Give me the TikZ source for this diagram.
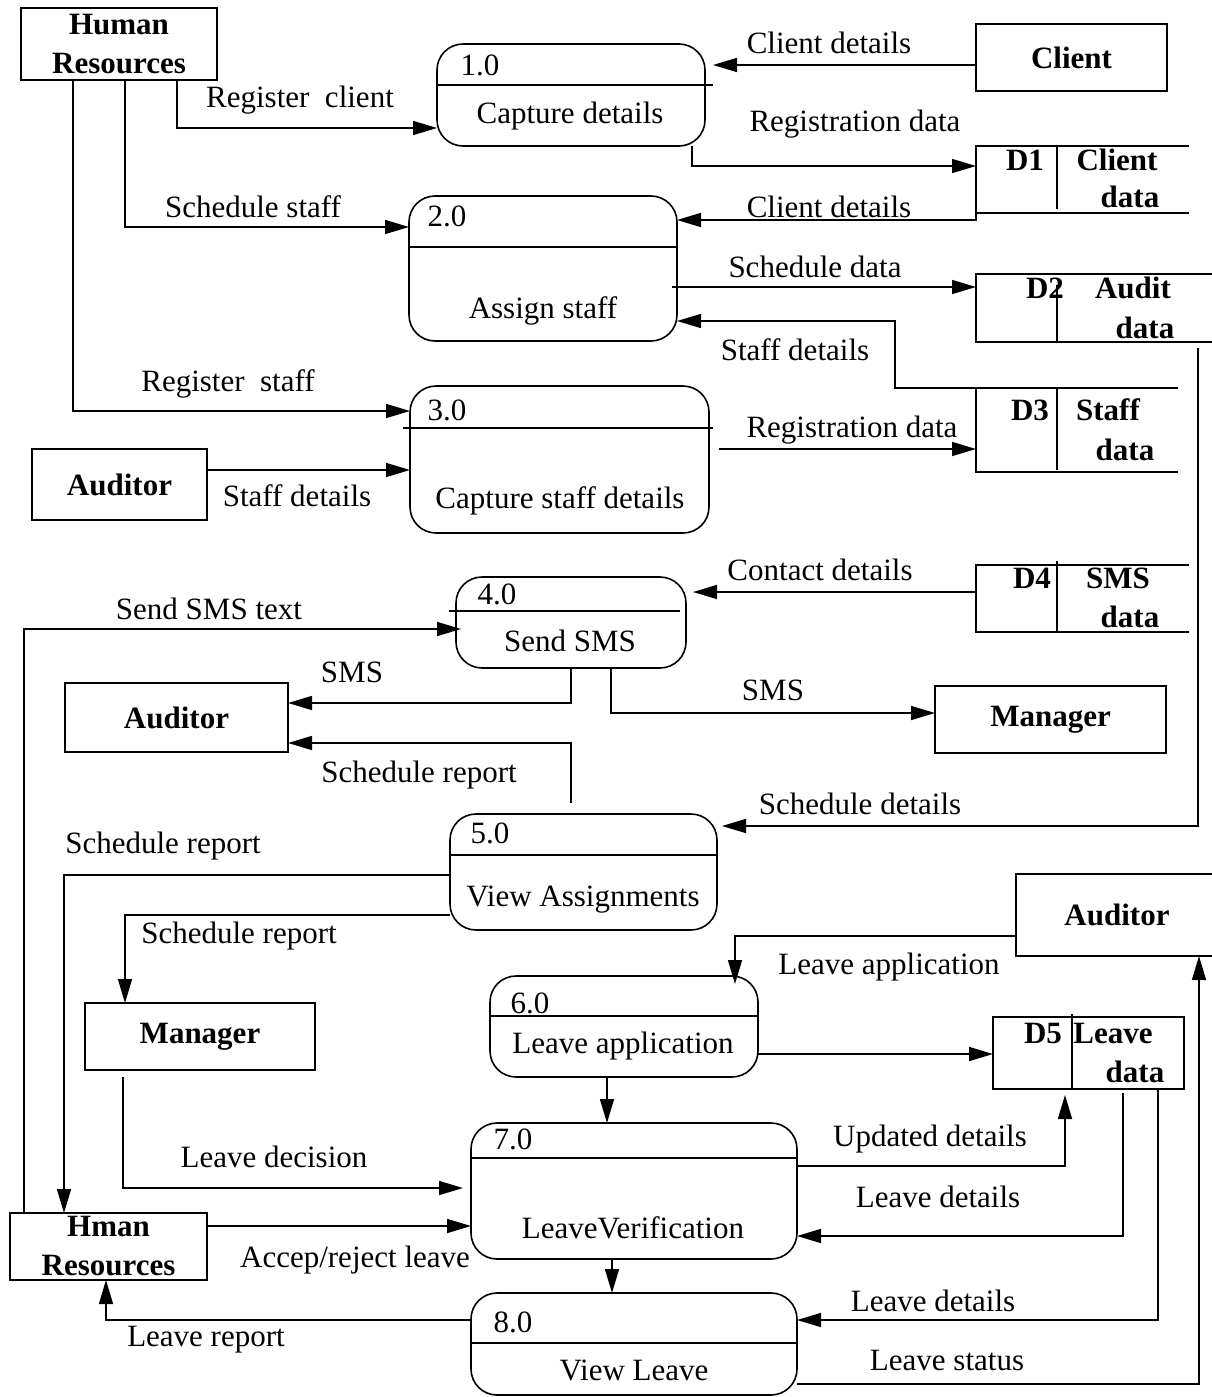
\documentclass[tikz,border=0pt]{standalone}
\usepackage{fontspec}
\setmainfont{Liberation Serif}
\usetikzlibrary{arrows.meta}
\begin{document}
\begin{tikzpicture}[x=1pt,y=-1pt,
  every node/.style={font=\fontsize{31}{39}\selectfont, inner sep=0pt, outer sep=0pt},
  ent/.style={draw, line width=2pt, font=\fontsize{31}{39}\selectfont\bfseries, align=center},
  proc/.style={draw, line width=1.6pt, rounded corners=26pt},
  sto/.style={},
  bt/.style={font=\fontsize{31}{39}\selectfont\bfseries},
  stoline/.style={line width=1.8pt},
  ln/.style={line width=1.6pt},
  flow/.style={line width=1.6pt, -{Triangle[length=24pt,width=14pt]}}]
\useasboundingbox (0,0) rectangle (1212,1397);
\fill[white] (0,0) rectangle (1212,1397);

% ---------- external entities ----------
\node[ent, minimum width=196pt, minimum height=72pt] (hrtop) at (119,44) {Human\\Resources};
\node[ent, minimum width=191pt, minimum height=67pt] (client) at (1071.5,57.5) {Client};
\node[ent, minimum width=175pt, minimum height=71pt] (aud1) at (119.5,484.5) {Auditor};
\node[ent, minimum width=223pt, minimum height=69pt] (aud2) at (176.5,717.5) {Auditor};
\node[ent, minimum width=231pt, minimum height=67pt] (mgr1) at (1050.5,719.5) {Manager};
\node[ent, minimum width=230pt, minimum height=67pt] (mgr2) at (200,1036.5) {Manager};
\node[ent, minimum width=202pt, minimum height=82pt] (aud3) at (1117,915) {Auditor};
\node[ent, minimum width=197pt, minimum height=67pt] (hrbot) at (108.5,1246.5) {Hman\\Resources};

% ---------- processes ----------
\node[proc, minimum width=268pt, minimum height=102pt] (p1) at (571,95) {};
\node[proc, minimum width=268pt, minimum height=145pt] (p2) at (543,268.5) {};
\node[proc, minimum width=299pt, minimum height=147pt] (p3) at (559.5,459.5) {};
\node[proc, minimum width=230pt, minimum height=91pt] (p4) at (571,622.5) {};
\node[proc, minimum width=267pt, minimum height=116pt] (p5) at (583.5,872) {};
\node[proc, minimum width=268pt, minimum height=101pt] (p6) at (624,1026.5) {};
\node[proc, minimum width=326pt, minimum height=136pt] (p7) at (634,1191) {};
\node[proc, minimum width=326pt, minimum height=102pt] (p8) at (634,1344) {};

\draw[ln] (p1.west |- 0,85) -- (713,85);
\draw[ln] (p2.west |- 0,247) -- (p2.east |- 0,247);
\draw[ln] (403,428) -- (713,428);
\draw[ln] (449,611) -- (680,611);
\draw[ln] (p5.west |- 0,855) -- (p5.east |- 0,855);
\draw[ln] (p6.west |- 0,1016) -- (p6.east |- 0,1016);
\draw[ln] (p7.west |- 0,1158) -- (p7.east |- 0,1158);
\draw[ln] (p8.west |- 0,1343) -- (p8.east |- 0,1343);

\node (p1n) at (480,65) {1.0};   \node (p1t) at (570,116) {Capture details};
\node (p2n) at (447,216) {2.0};  \node (p2t) at (543,311) {Assign staff};
\node (p3n) at (447,410) {3.0};  \node (p3t) at (560,501) {Capture staff details};
\node (p4n) at (497,594) {4.0};  \node (p4t) at (570,641) {Send SMS};
\node (p5n) at (490,833) {5.0};  \node (p5t) at (583,900) {View Assignments};
\node (p6n) at (530,1003) {6.0}; \node (p6t) at (623,1046) {Leave application};
\node (p7n) at (513,1139) {7.0}; \node (p7t) at (633,1228) {LeaveVerification};
\node (p8n) at (513,1322) {8.0}; \node (p8t) at (634,1370) {View Leave};

% ---------- data stores ----------
\node[sto, minimum width=213pt, minimum height=67pt] (d1) at (1082.5,179.5) {};
\node[sto, minimum width=240pt, minimum height=68pt] (d2) at (1096,308) {};
\node[sto, minimum width=202pt, minimum height=84pt] (d3) at (1077,430) {};
\node[sto, minimum width=213pt, minimum height=67pt] (d4) at (1082.5,598.5) {};
\node[sto, minimum width=191pt, minimum height=72pt] (d5) at (1088.5,1053) {};

\draw[stoline] (d1.north east) -- (d1.north west) -- (d1.south west) -- (d1.south east);
\draw[stoline] (1057,146) -- (1057,209);
\draw[stoline] (d2.north east) -- (d2.north west) -- (d2.south west) -- (d2.south east);
\draw[stoline] (1057,285) -- (1057,343);
\draw[stoline] (d3.north east) -- (d3.north west) -- (d3.south west) -- (d3.south east);
\draw[stoline] (1057,388) -- (1057,470);
\draw[stoline] (d4.north east) -- (d4.north west) -- (d4.south west) -- (d4.south east);
\draw[stoline] (1057,561) -- (1057,632);
\draw[stoline] (d5.north west) rectangle (d5.south east);
\draw[stoline] (1072,1014) -- (1072,1089);

\node[bt] (d1a) at (1025,160) {D1}; \node[bt] (d1b) at (1117,160) {Client}; \node[bt] (d1c) at (1130,197) {data};
\node[bt] (d2a) at (1045,288) {D2}; \node[bt] (d2b) at (1133,288) {Audit};  \node[bt] (d2c) at (1145,328) {data};
\node[bt] (d3a) at (1030,410) {D3}; \node[bt] (d3b) at (1108,410) {Staff};  \node[bt] (d3c) at (1125,450) {data};
\node[bt] (d4a) at (1032,578) {D4}; \node[bt] (d4b) at (1118,578) {SMS};    \node[bt] (d4c) at (1130,617) {data};
\node[bt] (d5a) at (1043,1033) {D5}; \node[bt] (d5b) at (1113,1033) {Leave}; \node[bt] (d5c) at (1135,1072) {data};

% ---------- free ends ----------
\coordinate (t1) at (713,65);
\coordinate (t2) at (735,984);
\coordinate (t3) at (1065,1095);
\coordinate (t4) at (463,1188);
\coordinate (t5) at (461,629);
\coordinate (t6) at (693,592);
\coordinate (t7) at (722,826);

% ---------- flows ----------
\draw[flow] (hrtop.south -| 177,0) |- (p1.west |- 0,128);
\draw[flow] (hrtop.south -| 125,0) |- (p2.west |- 0,227);
\draw[flow] (hrtop.south -| 73,0) |- (p3.west |- 0,411);
\draw[flow] (client.west |- 0,65) -- (t1);
\draw[flow] (p1.south -| 692,0) |- (d1.west |- 0,166);
\draw[flow] (d1.south west) -- ++(0,7) -- (p2.east |- 0,220);
\draw[flow] (672,287) -- (d2.west |- 0,287);
\draw[flow] (d3.north west) -- (895,388) |- (p2.east |- 0,321);
\draw[flow] (719,449) -- (d3.west |- 0,449);
\draw[flow] (aud1.east |- 0,470) -- (p3.west |- 0,470);
\draw[flow] (d4.west |- 0,592) -- (t6);
\draw[flow] (hrbot.north -| 24,0) |- (t5);
\draw[flow] (p4.south -| 571,0) |- (aud2.east |- 0,703);
\draw[flow] (p4.south -| 611,0) |- (mgr1.west |- 0,713);
\draw[flow] (d2.south -| 1198,0) ++(0,6) |- (t7);
\draw[flow] (p5.north -| 571,0) ++(0,-11) |- (aud2.east |- 0,743);
\draw[flow] (p5.west |- 0,875) -| (hrbot.north -| 64,0);
\draw[flow] (p5.west |- 0,915) -| (mgr2.north -| 125,0);
\draw[flow] (aud3.west |- 0,936) -| (t2);
\draw[flow] (p6.east |- 0,1054) -- (d5.west |- 0,1054);
\draw[flow] (p6.south -| 607,0) -- (p7.north -| 607,0);
\draw[flow] (p7.east |- 0,1166) -| (t3);
\draw[flow] (d5.south -| 1123,0) ++(0,4) |- (p7.east |- 0,1236);
\draw[flow] (d5.south -| 1158,0) |- (p8.east |- 0,1320);
\draw[flow] (p8.east |- 0,1384) -| (aud3.south -| 1199,0);
\draw[flow] (mgr2.south -| 123,0) ++(0,7) |- (t4);
\draw[flow] (hrbot.east |- 0,1226) -- (p7.west |- 0,1226);
\draw[flow] (p7.south -| 612,0) -- (p8.north -| 612,0);
\draw[flow] (p8.west |- 0,1320) -| (hrbot.south -| 106,0);

% ---------- flow labels ----------
\node (l1) at (300,100) {Register~~client};
\node (l2) at (829,43) {Client details};
\node (l3) at (855,124) {Registration data};
\node (l4) at (253,207) {Schedule staff};
\node (l5) at (829,207) {Client details};
\node (l6) at (815,267) {Schedule data};
\node (l7) at (795,350) {Staff details};
\node (l8) at (228,384) {Register~~staff};
\node (l9) at (852,430) {Registration data};
\node (l10) at (297,496) {Staff details};
\node (l11) at (820,570) {Contact details};
\node (l12) at (209,609) {Send SMS text};
\node (l13) at (352,672) {SMS};
\node (l14) at (773,690) {SMS};
\node (l15) at (419,775) {Schedule report};
\node (l16) at (860,804) {Schedule details};
\node (l17) at (163,846) {Schedule report};
\node (l18) at (239,936) {Schedule report};
\node (l19) at (889,967) {Leave application};
\node (l20) at (930,1139) {Updated details};
\node (l21) at (274,1157) {Leave decision};
\node (l22) at (938,1197) {Leave details};
\node (l23) at (355,1260) {Accep/reject leave};
\node (l24) at (933,1301) {Leave details};
\node (l25) at (206,1340) {Leave report};
\node (l26) at (947,1360) {Leave status};
\end{tikzpicture}
\end{document}
